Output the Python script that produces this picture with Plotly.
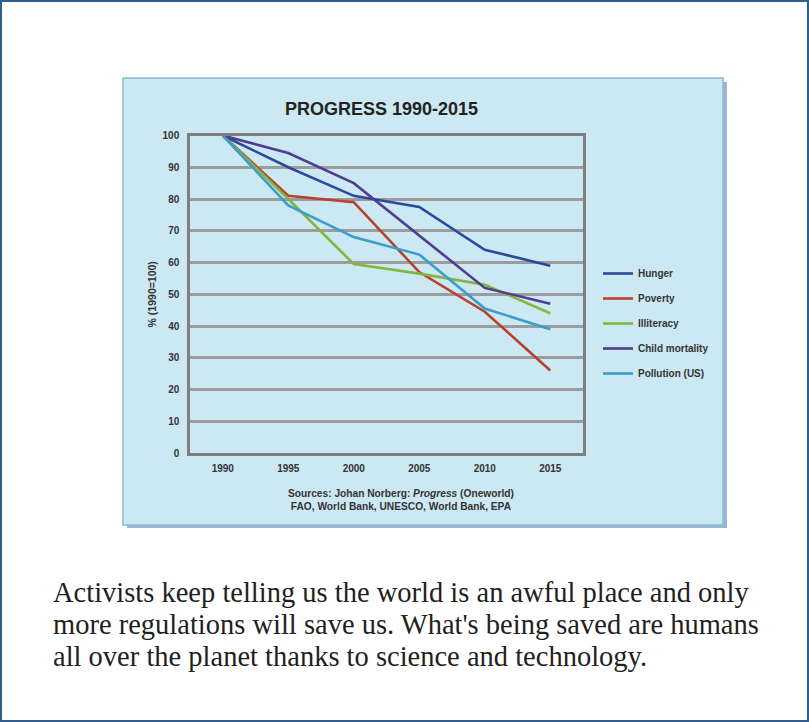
import plotly.graph_objects as go

W, H = 809, 722

years = ["1990", "1995", "2000", "2005", "2010", "2015"]
hunger = [100, 90, 81, 77.5, 64, 59]
poverty = [100, 81, 79, 57, 44.5, 26]
illiteracy = [100, 80, 59.5, 56.5, 53, 44]
child_mortality = [100, 94.5, 85, 68.5, 52, 47]
pollution = [100, 78, 68, 62.5, 45.5, 39]

series_names = ["Hunger", "Poverty", "Illiteracy", "Child mortality", "Pollution (US)"]
series_values = [hunger, poverty, illiteracy, child_mortality, pollution]
series_colors = ["#2b4a9b", "#b8402e", "#84b63f", "#4f3d90", "#3a9dca"]

title_text = "PROGRESS 1990-2015"
y_title = "% (1990=100)"
source_text = "Sources: Johan Norberg: <i>Progress</i> (Oneworld)<br>FAO, World Bank, UNESCO, World Bank, EPA"
caption_lines = [
    "Activists keep telling us the world is an awful place and only",
    "more regulations will save us. What's being saved are humans",
    "all over the planet thanks to science and technology.",
]


def fx(px):
    return px / W


def fy(py):
    return 1 - py / H


fig = go.Figure()
for i, (name, vals, col) in enumerate(zip(series_names, series_values, series_colors)):
    fig.add_trace(go.Scatter(
        x=years, y=vals, mode="lines", name=name,
        legendgroup=f"g{i}",
        line=dict(color=col, width=2.6),
    ))

tick_font = dict(family="Liberation Sans, Arial, sans-serif", size=10, color="#333333", weight="bold")

annotations = [
    dict(text=source_text, xref="paper", yref="paper", x=fx(401), y=fy(499.5),
         xanchor="center", yanchor="middle", showarrow=False, align="center",
         font=dict(family="Liberation Sans, Arial, sans-serif", size=10.2, color="#333333", weight="bold")),
]
for k, line in enumerate(caption_lines):
    annotations.append(dict(
        text=line, xref="paper", yref="paper", x=fx(51), y=fy(592 + 32 * k),
        xanchor="left", yanchor="middle", showarrow=False, align="left",
        font=dict(family="Liberation Serif, Times New Roman, serif", size=28.5, color="#231f20"),
    ))

fig.update_layout(
    width=W, height=H,
    margin=dict(l=0, r=0, t=0, b=0),
    paper_bgcolor="white",
    plot_bgcolor="white",
    showlegend=True,
    legend=dict(
        x=fx(598), y=fy(259), xanchor="left", yanchor="top",
        bgcolor="rgba(0,0,0,0)", borderwidth=0,
        font=dict(family="Liberation Sans, Arial, sans-serif", size=10, color="#333333", weight="bold"),
        traceorder="grouped", tracegroupgap=6,
    ),
    title=dict(
        text=title_text, x=fx(381.5), y=fy(109), xref="paper", yref="paper",
        xanchor="center", yanchor="middle",
        font=dict(family="Liberation Sans, Arial, sans-serif", size=18, color="#222222", weight="bold"),
    ),
    xaxis=dict(
        domain=[fx(190), fx(583)],
        type="category", range=[-0.5, 5.5],
        showgrid=False, zeroline=False,
        showline=True, linecolor="#7f7f7f", linewidth=2.5, mirror=True,
        ticks="", ticklabelstandoff=4,
        tickfont=tick_font,
        automargin=False,
    ),
    yaxis=dict(
        domain=[fy(453), fy(135.5)],
        range=[0, 100], dtick=10, tick0=0,
        showgrid=True, gridcolor="#9c9c9c", gridwidth=2.5,
        zeroline=False,
        showline=True, linecolor="#7f7f7f", linewidth=2.5, mirror=True,
        ticks="", ticklabelstandoff=6,
        tickfont=tick_font,
        title=dict(text=y_title, standoff=4,
                   font=dict(family="Liberation Sans, Arial, sans-serif", size=10.5, color="#333333", weight="bold")),
        automargin=False,
    ),
    shapes=[
        dict(type="rect", xref="paper", yref="paper", x0=fx(1), x1=fx(808), y0=fy(721), y1=fy(1),
             line=dict(color="#2f5d8c", width=2), fillcolor="rgba(0,0,0,0)", layer="below"),
        dict(type="rect", xref="paper", yref="paper", x0=fx(127), x1=fx(727), y0=fy(528), y1=fy(82),
             line=dict(width=0), fillcolor="#9ab7d1", layer="below"),
        dict(type="rect", xref="paper", yref="paper", x0=fx(123), x1=fx(723), y0=fy(525), y1=fy(78),
             line=dict(color="#86bada", width=1.5), fillcolor="#cce8f2", layer="below"),
    ],
    annotations=annotations,
)

fig.write_html("out.html", config={"displayModeBar": False},
               post_script="document.body.style.margin='0';")
